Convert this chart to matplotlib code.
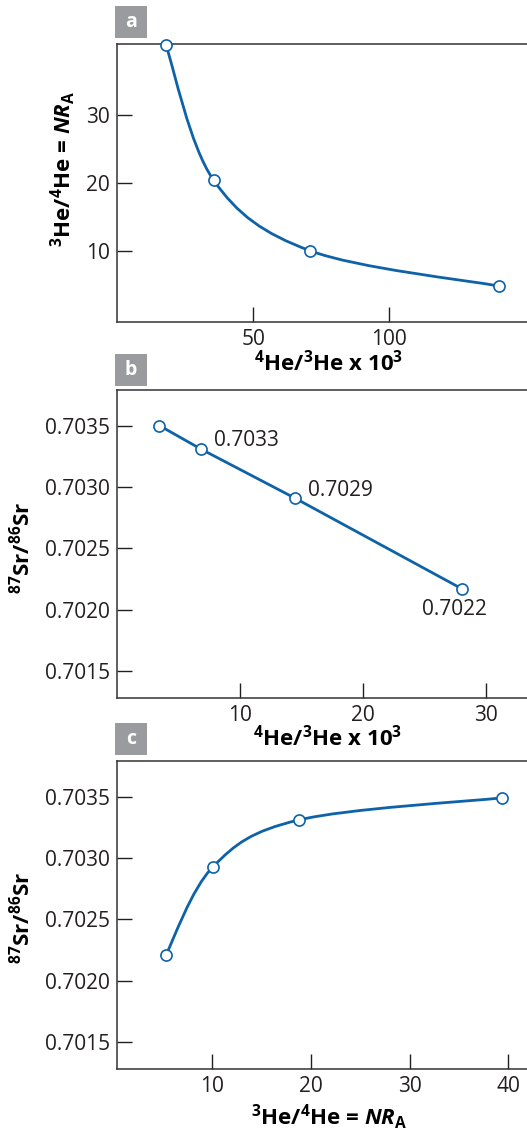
import matplotlib
matplotlib.use("Agg")
import matplotlib.pyplot as plt
import numpy as np
from matplotlib.patches import PathPatch, Rectangle
from matplotlib.path import Path
from matplotlib.ticker import FormatStrFormatter

# panel a: 4He/3He x 10^3 vs 3He/4He = NR_A
A_X = [18.0, 35.5, 71.0, 140.3]
A_Y = [40.3, 20.4, 10.0, 4.8]

# panel b: 4He/3He x 10^3 vs 87Sr/86Sr
B_X = [3.45, 6.8, 14.45, 28.05]
B_Y = [0.70350, 0.70331, 0.70291, 0.70217]
B_LABELS = [None, "0.7033", "0.7029", "0.7022"]

# panel c: NR_A vs 87Sr/86Sr
C_X = [5.3, 10.1, 18.8, 39.4]
C_Y = [0.70221, 0.70293, 0.70331, 0.70349]

BLUE = "#0d62a8"
DARK = "#231f20"
GREY = "#9a9b9e"

plt.rcParams.update({
    "font.family": ["Open Sans", "DejaVu Sans"],
    "font.size": 15,
    "mathtext.fontset": "custom",
    "mathtext.rm": "Open Sans:bold",
    "mathtext.it": "Open Sans:bold:italic",
    "mathtext.bf": "Open Sans:bold",
    "text.color": DARK,
    "axes.edgecolor": "#333333",
    "axes.linewidth": 1.1,
    "xtick.color": DARK,
    "ytick.color": DARK,
})

W, H = 527, 1133


def smooth_path(ax, xs, ys):
    # Catmull-Rom through the points, done in axes-fraction space, as Bezier
    x0, x1 = ax.get_xlim()
    y0, y1 = ax.get_ylim()
    p = np.column_stack([(np.array(xs) - x0) / (x1 - x0),
                         (np.array(ys) - y0) / (y1 - y0)])
    n = len(p)
    verts = [p[0]]
    codes = [Path.MOVETO]
    for i in range(n - 1):
        pm = p[i - 1] if i > 0 else p[i]
        pp = p[i + 2] if i + 2 < n else p[i + 1]
        c1 = p[i] + (p[i + 1] - pm) / 6
        c2 = p[i + 1] - (pp - p[i]) / 6
        verts += [c1, c2, p[i + 1]]
        codes += [Path.CURVE4] * 3
    verts = np.array(verts)
    verts[:, 0] = x0 + verts[:, 0] * (x1 - x0)
    verts[:, 1] = y0 + verts[:, 1] * (y1 - y0)
    return Path(verts, codes)


def make_axes(top, bottom, left=117):
    ax = fig.add_axes([left / W, 1 - bottom / H, 1 - left / W, (bottom - top) / H])
    ax.spines["right"].set_visible(False)
    ax.tick_params(direction="in", length=11, width=1.0, pad=5,
                   top=False, right=False, labelsize=15)
    return ax


def panel_tag(letter, top):
    fig.add_artist(Rectangle((115 / W, 1 - (top + 32) / H), 32 / W, 32 / H,
                             transform=fig.transFigure, facecolor=GREY,
                             edgecolor="none"))
    fig.text(131 / W, 1 - (top + 16) / H, letter, color="white",
             fontsize=14, fontweight="bold", ha="center", va="center")


def draw_points(ax, xs, ys, smooth):
    if smooth:
        ax.add_patch(PathPatch(smooth_path(ax, xs, ys), facecolor="none",
                               edgecolor=BLUE, lw=2.0, zorder=2))
    else:
        ax.plot(xs, ys, color=BLUE, lw=2.0, zorder=2)
    ax.plot(xs, ys, "o", ms=8, mfc="white", mec=BLUE, mew=1.2,
            zorder=3, clip_on=False)


fig = plt.figure(figsize=(W / 100, H / 100), dpi=100)

# ---- a
ax = make_axes(44, 322)
ax.set_xlim(0, 150.6)
ax.set_ylim(-0.5, 40.5)
ax.set_xticks([50, 100])
ax.set_yticks([10, 20, 30])
draw_points(ax, A_X, A_Y, smooth=True)
ax.set_xlabel("$^4$He/$^3$He x 10$^3$", fontweight="bold", fontsize=16,
              va="center")
ax.xaxis.set_label_coords(0.515, -0.147)
ax.set_ylabel(r"$^3$He/$^4$He = $NR_{\mathrm{A}}$", fontweight="bold",
              fontsize=16, va="center")
ax.yaxis.set_label_coords(-0.132, 0.552)
panel_tag("a", 6)

# ---- b
ax = make_axes(390, 698)
ax.set_xlim(0, 33.35)
ax.set_ylim(0.70128, 0.70379)
ax.set_xticks([10, 20, 30])
ax.set_yticks([0.7015, 0.7020, 0.7025, 0.7030, 0.7035])
ax.yaxis.set_major_formatter(FormatStrFormatter("%.4f"))
draw_points(ax, B_X, B_Y, smooth=False)
offsets = [None, (13, 8, "left"), (13, 7, "left"), (-7, -21, "center")]
for x, y, lab, off in zip(B_X, B_Y, B_LABELS, offsets):
    if lab is None:
        continue
    ax.annotate(lab, (x, y), xytext=off[:2], textcoords="offset pixels",
                ha=off[2], va="center", fontsize=15)
ax.set_xlabel("$^4$He/$^3$He x 10$^3$", fontweight="bold", fontsize=16,
              va="center")
ax.xaxis.set_label_coords(0.514, -0.128)
ax.set_ylabel("$^{87}$Sr/$^{86}$Sr", fontweight="bold", fontsize=16,
              va="center")
ax.yaxis.set_label_coords(-0.233, 0.488)
panel_tag("b", 354)

# ---- c
ax = make_axes(761, 1069)
ax.set_xlim(0.35, 41.9)
ax.set_ylim(0.70128, 0.70379)
ax.set_xticks([10, 20, 30, 40])
ax.set_yticks([0.7015, 0.7020, 0.7025, 0.7030, 0.7035])
ax.yaxis.set_major_formatter(FormatStrFormatter("%.4f"))
draw_points(ax, C_X, C_Y, smooth=True)
ax.set_xlabel(r"$^3$He/$^4$He = $NR_{\mathrm{A}}$", fontweight="bold",
              fontsize=16, va="center")
ax.xaxis.set_label_coords(0.517, -0.156)
ax.set_ylabel("$^{87}$Sr/$^{86}$Sr", fontweight="bold", fontsize=16,
              va="center")
ax.yaxis.set_label_coords(-0.233, 0.492)
panel_tag("c", 723)

fig.savefig("out.png", dpi=100)
